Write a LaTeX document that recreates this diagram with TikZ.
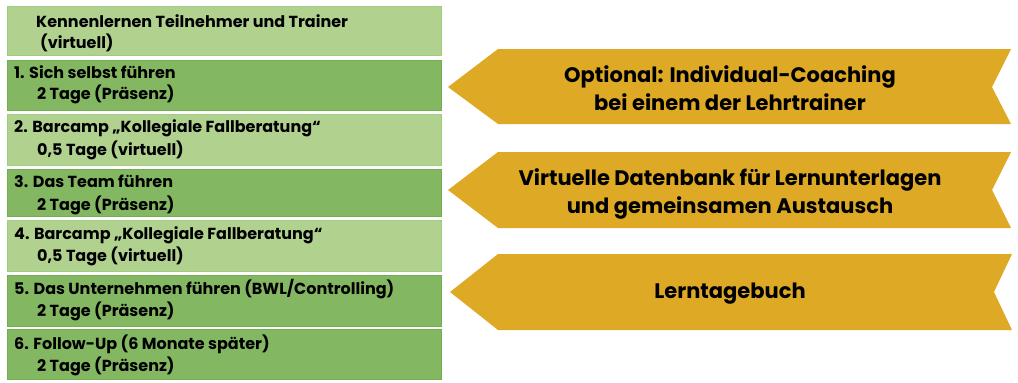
\documentclass[tikz,border=0pt]{standalone}
\usepackage{fontspec}
\setmainfont{Poppins}
\definecolor{lightg}{HTML}{B1D28F}
\definecolor{lightgb}{HTML}{A0CB82}
\definecolor{darkg}{HTML}{84B761}
\definecolor{darkgb}{HTML}{72AD4F}
\definecolor{gold}{HTML}{DEA924}
\begin{document}
\begin{tikzpicture}[x=1pt,y=-1pt,
  boxbase/.style={rectangle, anchor=north west, minimum width=434pt, line width=1.2pt, inner sep=0pt},
  lightbox/.style={boxbase, fill=lightg, draw=lightgb},
  darkbox/.style={boxbase, fill=darkg, draw=darkgb},
  boxtext/.style={anchor=base west, inner sep=0pt, font=\fontsize{16}{20}\selectfont\bfseries},
  arrowtext/.style={align=center, inner sep=0pt, font=\fontsize{21}{27.5}\selectfont\bfseries},
  banner/.style={fill=gold}
]
\useasboundingbox (0,0) rectangle (1018,383);
% boxes
\node[lightbox, minimum height=49pt] (b0) at (7,6) {};
\node[darkbox,  minimum height=50pt] (b1) at (7,60) {};
\node[lightbox, minimum height=51pt] (b2) at (7,114) {};
\node[darkbox,  minimum height=47pt] (b3) at (7,169) {};
\node[lightbox, minimum height=51pt] (b4) at (7,220) {};
\node[darkbox,  minimum height=51pt] (b5) at (7,275) {};
\node[darkbox,  minimum height=50pt] (b6) at (7,329) {};
% texts
\node[boxtext] (t0a) at (36,27) {Kennenlernen Teilnehmer und Trainer};
\node[boxtext] (t0b) at (40,48) {(virtuell)};
\node[boxtext] (t1a) at (14,78) {1. Sich selbst führen};
\node[boxtext] (t1b) at (37,99) {2 Tage (Präsenz)};
\node[boxtext] (t2a) at (14,132) {2. Barcamp „Kollegiale Fallberatung“};
\node[boxtext] (t2b) at (37,155) {0,5 Tage (virtuell)};
\node[boxtext] (t3a) at (14,187) {3. Das Team führen};
\node[boxtext] (t3b) at (37,210) {2 Tage (Präsenz)};
\node[boxtext] (t4a) at (14,239) {4. Barcamp „Kollegiale Fallberatung“};
\node[boxtext] (t4b) at (37,261) {0,5 Tage (virtuell)};
\node[boxtext] (t5a) at (14,294) {5. Das Unternehmen führen (BWL/Controlling)};
\node[boxtext] (t5b) at (37,316) {2 Tage (Präsenz)};
\node[boxtext] (t6a) at (14,349) {6. Follow-Up (6 Monate später)};
\node[boxtext] (t6b) at (37,371) {2 Tage (Präsenz)};
% banners
\fill[banner] (448,87) -- (498,49) -- (1011,49) -- (992,87) -- (1011,124) -- (498,124) -- cycle;
\fill[banner] (448,190) -- (498,152) -- (1011,152) -- (992,190) -- (1011,228) -- (498,228) -- cycle;
\fill[banner] (450,292) -- (498,254) -- (1012,254) -- (994,292) -- (1012,330) -- (498,330) -- cycle;
\node[arrowtext] (a1) at (730,88) {Optional: Individual-Coaching\\bei einem der Lehrtrainer};
\node[arrowtext] (a2) at (730,194) {Virtuelle Datenbank für Lernunterlagen\\und gemeinsamen Austausch};
\node[arrowtext] (a3) at (730,294) {Lerntagebuch};
\end{tikzpicture}
\end{document}
